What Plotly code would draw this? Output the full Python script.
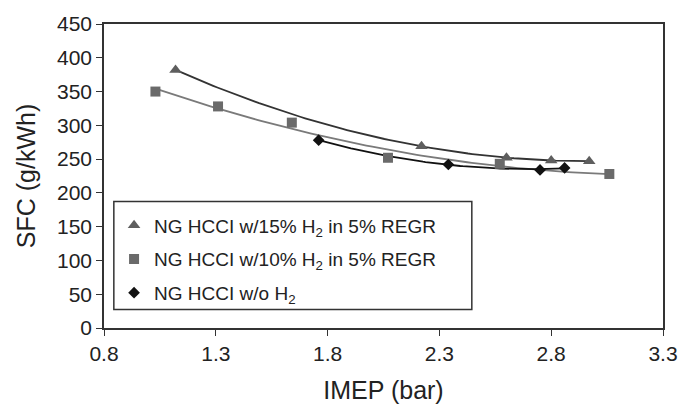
import numpy as np
import plotly.graph_objects as go

# Data
tri_x = [1.12, 2.22, 2.60, 2.80, 2.97]
tri_y = [382, 269, 252, 248, 247]
sq_x = [1.03, 1.31, 1.64, 2.07, 2.57, 3.06]
sq_y = [350, 328, 304, 252, 243, 228]
dia_x = [1.76, 2.34, 2.75, 2.86]
dia_y = [278, 242, 234, 237]

x_ticks = [0.8, 1.3, 1.8, 2.3, 2.8, 3.3]
y_ticks = [0, 50, 100, 150, 200, 250, 300, 350, 400, 450]

names = ["NG HCCI w/15% H<sub>2</sub> in 5% REGR",
         "NG HCCI w/10% H<sub>2</sub> in 5% REGR",
         "NG HCCI w/o H<sub>2</sub>"]

FONT = "Liberation Sans, Arial, sans-serif"

fig = go.Figure()

def trend(xs, ys, color, width):
    c = np.polyfit(xs, ys, 2)
    xx = np.linspace(min(xs), max(xs), 100)
    fig.add_trace(go.Scatter(x=xx, y=np.polyval(c, xx), mode="lines",
                             line=dict(color=color, width=width),
                             showlegend=False, hoverinfo="skip"))

trend(tri_x, tri_y, "#333333", 1.8)
trend(sq_x, sq_y, "#7a7a7a", 1.8)
trend(dia_x, dia_y, "#111111", 1.8)

fig.add_trace(go.Scatter(x=tri_x, y=tri_y, mode="markers", name=names[0], legendgroup="a",
                         marker=dict(symbol="triangle-up", size=11, color="#5e5e5e")))
fig.add_trace(go.Scatter(x=sq_x, y=sq_y, mode="markers", name=names[1], legendgroup="b",
                         marker=dict(symbol="square", size=10, color="#6a6a6a")))
fig.add_trace(go.Scatter(x=dia_x, y=dia_y, mode="markers", name=names[2], legendgroup="c",
                         marker=dict(symbol="diamond", size=9, color="#111111")))

axis_common = dict(showgrid=False, zeroline=False, showline=True,
                   linecolor="#333333", linewidth=1.5, mirror=True,
                   ticks="outside", ticklen=6, tickcolor="#333333",
                   tickfont=dict(family=FONT, size=21, color="#222222"))

# legend frame drawn as a shape (wider than plotly's auto box, as in the reference)
fig.add_shape(type="rect", xref="paper", yref="paper",
              x0=0.0176, x1=0.658, y0=0.061, y1=0.416,
              line=dict(color="#333333", width=1.5), fillcolor="white", layer="below")

fig.update_layout(
    width=690, height=412,
    margin=dict(l=104, r=19, t=23, b=79),
    paper_bgcolor="white", plot_bgcolor="white",
    font=dict(family=FONT, color="#222222"),
    xaxis=dict(range=[0.8, 3.3], tickvals=x_ticks,
               ticktext=[f"{v:.1f}" for v in x_ticks],
               title=dict(text="IMEP (bar)", font=dict(family=FONT, size=25), standoff=18),
               **axis_common),
    yaxis=dict(range=[0, 450], tickvals=y_ticks,
               title=dict(text="SFC (g/kWh)", font=dict(family=FONT, size=25), standoff=14),
               **axis_common),
    legend=dict(x=0.018, y=0.40, xanchor="left", yanchor="top",
                borderwidth=0, bgcolor="rgba(0,0,0,0)",
                font=dict(family=FONT, size=19, color="#222222"),
                itemwidth=30, tracegroupgap=6,
                itemclick=False),
)

fig.write_html("out.html")
